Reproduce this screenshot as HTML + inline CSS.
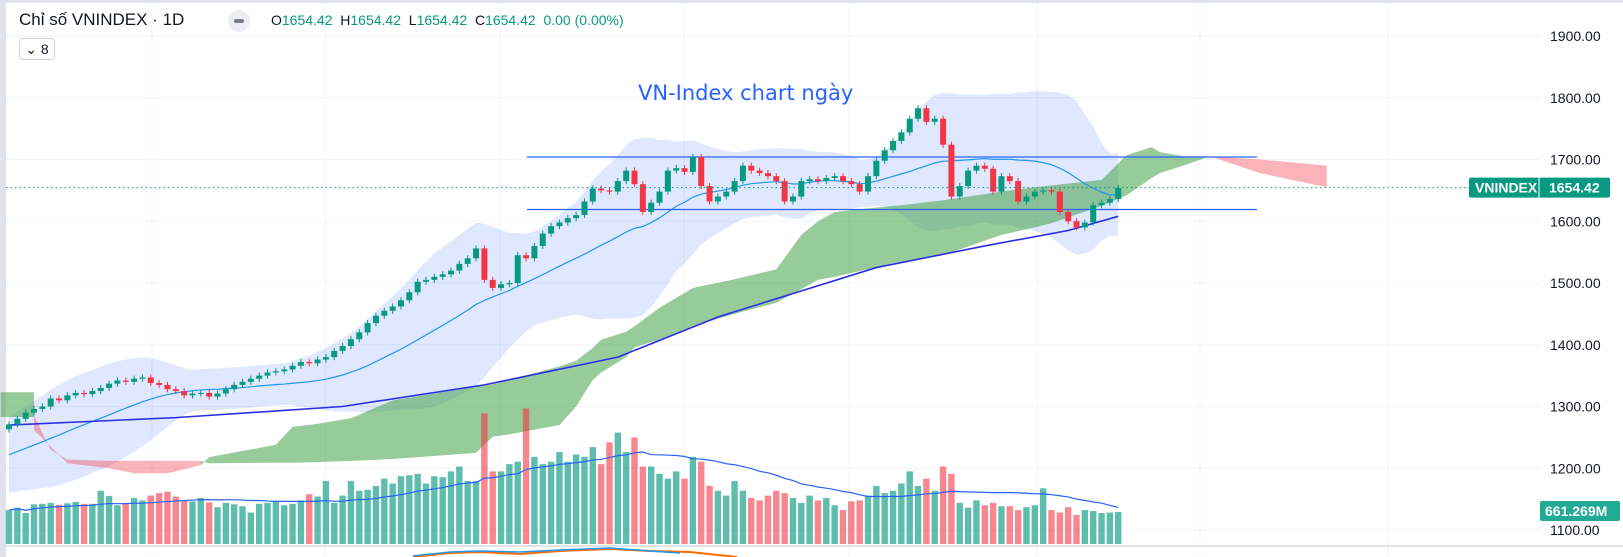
<!DOCTYPE html>
<html><head><meta charset="utf-8"><style>
html,body{margin:0;padding:0;background:#fff;width:1623px;height:557px;overflow:hidden;font-family:"Liberation Sans",sans-serif}
#wrap{position:relative;width:1623px;height:557px}
svg{position:absolute;left:0;top:0}
.hdr{position:absolute;left:19px;top:10px;font-size:17px;color:#131722;white-space:nowrap}
.ohlc{position:absolute;left:271px;top:12px;font-size:14px;color:#131722;white-space:nowrap}
.ohlc span.v{color:#089981}
.btn8{position:absolute;left:19px;top:38px;width:36px;height:22px;border:1px solid #d1d4dc;border-radius:4px;font-size:14px;color:#131722;box-sizing:border-box;text-align:center;line-height:20px}
.dot{position:absolute;left:228px;top:10px;width:22px;height:22px;border-radius:11px;background:#eceef2}
.dot i{position:absolute;left:6px;top:9px;width:10px;height:4px;border-radius:2px;background:#787b86}
</style></head><body>
<div id="wrap">
<svg id="chart" width="1623" height="557"></svg>
<div class="hdr">Chỉ số VNINDEX · 1D</div>
<div class="dot"><i></i></div>
<div class="ohlc">O<span class="v">1654.42</span>&nbsp; H<span class="v">1654.42</span>&nbsp; L<span class="v">1654.42</span>&nbsp; C<span class="v">1654.42</span>&nbsp; <span class="v">0.00 (0.00%)</span></div>
<div class="btn8">&#x2304; 8</div>
</div>
<script>
const priorCloses=[1180,1185,1190,1195,1200,1205,1200,1210,1215,1220,1225,1230,1228,1235,1240,1245,1250,1255,1262];
const closes=[1271,1280,1290,1296,1300,1313,1310,1318,1322,1320,
1325,1330,1337,1342,1340,1345,1347,1338,1335,1328,
1325,1318,1321,1322,1316,1321,1328,1335,1340,1345,
1350,1355,1357,1360,1366,1372,1370,1376,1380,1390,
1398,1409,1420,1435,1447,1455,1462,1472,1485,1502,
1505,1510,1514,1520,1531,1540,1556,1505,1492,1498,
1500,1545,1540,1560,1580,1592,1598,1605,1610,1632,
1653,1650,1648,1665,1682,1660,1615,1630,1648,1682,
1686,1680,1704,1657,1632,1640,1648,1665,1690,1682,
1678,1673,1665,1632,1640,1665,1668,1665,1670,1673,
1665,1660,1648,1673,1698,1715,1730,1744,1766,1783,
1761,1766,1724,1640,1657,1682,1690,1685,1648,1673,
1665,1632,1640,1648,1650,1648,1615,1600,1590,1598,
1626,1630,1636,1654];
const volumes=[700,750,640,820,830,850,810,840,870,830,
830,1100,990,800,850,950,900,1000,1050,1080,
980,900,880,950,860,760,850,820,780,650,
830,850,880,800,830,900,1030,980,1300,850,
1000,1300,1100,1120,1200,1350,1250,1400,1420,1450,
1250,1400,1380,1500,1600,1300,1300,2700,1500,1500,
1650,1700,2800,1800,1650,1700,1900,1700,1850,1800,
2000,1650,2100,2300,1900,2200,1600,1600,1450,1350,
1500,1350,1800,1700,1200,1100,1000,1300,1100,950,
900,1000,1100,1050,950,850,1000,900,950,800,
700,880,900,1000,1200,1050,1100,1250,1500,1200,
1350,1100,1600,1450,850,750,900,800,850,780,
780,700,760,800,1150,700,650,760,600,700,
680,640,650,661];
const maIdx=[0,20,40,57,73,85,104,117,127,133];
const maVal=[1270,1282,1300,1335,1380,1445,1525,1560,1585,1608];
const cloudIdx=[-1,3,3,5,7,12,15,19,23,24,32,34,37,41,46,56,58,60,66,68,70,71,74,75,78,82,87,92,95,97,99,106,107,112,119,123,125,131,134,137,138,141,144,150,158];
const spanA=[1323,1323,1262,1235,1208,1200,1192,1192,1205,1218,1238,1267,1272,1281,1310,1332,1336,1343,1365,1374,1395,1408,1421,1430,1460,1492,1506,1522,1578,1600,1615,1625,1626,1634,1648,1655,1658,1667,1707,1720,1712,1705,1705,1678,1655];
const spanB=[1283,1283,1285,1230,1214,1212,1212,1212,1212,1208,1209,1209,1210,1212,1215,1225,1251,1255,1270,1300,1343,1355,1380,1396,1408,1430,1450,1468,1490,1505,1510,1532,1534,1545,1578,1590,1597,1625,1642,1670,1678,1691,1705,1700,1690];
const priceTicks=[1900,1800,1700,1600,1500,1400,1300,1200,1100];
const levels=[1704,1619];
const lastPrice=1654.42;
const lastVolLabel="661.269M";

const NS="http://www.w3.org/2000/svg";
const svg=document.getElementById('chart');
const X0=9,DX=8.34,PR=1540;
const x=i=>X0+i*DX;
const y=p=>36+(1900-p)*0.6175;
const VB=544,VS=32/661;
const vy=v=>VB-v*VS;
function mk(tag,attrs,parent){const e=document.createElementNS(NS,tag);for(const k in attrs)e.setAttribute(k,attrs[k]);(parent||svg).appendChild(e);return e;}

let e=mk('rect',{x:0,y:0,width:6,height:557,fill:'#e0e3eb'});


e=mk('line',{x1:0,y1:1.5,x2:1623,y2:1.5,stroke:'#e0e3eb','stroke-width':3});


const gx=[152,325,500,684,849,1037,1200,1388];
gx.forEach(g=>{const l=mk('line',{x1:g,y1:3,x2:g,y2:557,stroke:'#f0f3fa'});

});
priceTicks.forEach(t=>{const l=mk('line',{x1:6,y1:y(t),x2:PR,y2:y(t),stroke:'#f0f3fa'});


const tx=mk('text',{x:1550,y:y(t)+5,'font-size':14,fill:'#131722','font-family':'Liberation Sans, sans-serif'});tx.textContent=t.toFixed(2);

});
e=mk('line',{x1:6,y1:546,x2:1623,y2:546,stroke:'#e0e3eb','stroke-width':2});



const N=closes.length;const all=priorCloses.concat(closes);const P=priorCloses.length;
const mid=[],up=[],lo=[];
for(let i=0;i<N;i++){const j=i+P;const w=all.slice(j-19,j+1);const m=w.reduce((a,b)=>a+b,0)/w.length;
const sd=Math.sqrt(w.reduce((a,b)=>a+(b-m)*(b-m),0)/w.length);mid.push(m);up.push(m+2.4*Math.max(sd,14));lo.push(m-2.4*Math.max(sd,14));}
let d='M'+x(0)+','+y(up[0]);for(let i=1;i<N;i++)d+='L'+x(i)+','+y(up[i]);for(let i=N-1;i>=0;i--)d+='L'+x(i)+','+y(lo[i]);
e=mk('path',{d:d+'Z',fill:'rgba(41,98,255,0.15)'});



// cloud: merge contiguous same-colour runs into single polygons
let runs=[];let cur=null;
for(let k=0;k<cloudIdx.length-1;k++){
 if(cloudIdx[k+1]===cloudIdx[k]){cur=null;continue;}
 const green=(spanA[k]+spanA[k+1])>=(spanB[k]+spanB[k+1]);
 if(!cur||cur.green!==green){cur={green,ks:[k]};runs.push(cur);}
 cur.ks.push(k+1);
}
runs.forEach(r=>{
 const top=r.ks.map(k=>x(cloudIdx[k])+','+y(spanA[k]));
 const bot=r.ks.slice().reverse().map(k=>x(cloudIdx[k])+','+y(spanB[k]));
 const p=mk('polygon',{points:top.concat(bot).join(' '),fill:r.green?'rgba(67,160,71,0.55)':'rgba(242,54,69,0.38)'});
 
 
});

for(let i=0;i<N;i++){const o=i?closes[i-1]:closes[0];const g=closes[i]>=o;
 const r=mk('rect',{x:x(i)-3.2,y:vy(volumes[i]),width:6.4,height:VB-vy(volumes[i]),fill:g?'rgba(8,153,129,0.65)':'rgba(242,54,69,0.6)'});
 
 }
let vd='';for(let i=0;i<N;i++){const s=Math.max(0,i-19);const w=volumes.slice(s,i+1);const m=w.reduce((a,b)=>a+b,0)/w.length;vd+=(i?'L':'M')+x(i)+','+vy(m);}
e=mk('path',{d:vd,fill:'none',stroke:'#2962ff','stroke-width':1.2});



let md='';for(let i=0;i<N;i++)md+=(i?'L':'M')+x(i)+','+y(mid[i]);
e=mk('path',{d:md,fill:'none',stroke:'#2196f3','stroke-width':1.2});


let ld='';maIdx.forEach((i,k)=>ld+=(k?'L':'M')+x(i)+','+y(maVal[k]));
e=mk('path',{d:ld,fill:'none',stroke:'#2a2ee6','stroke-width':1.6});



levels.forEach(lv=>{const l=mk('line',{x1:527,y1:y(lv),x2:1257,y2:y(lv),stroke:'#2962ff','stroke-width':1.2});

});

for(let i=0;i<N;i++){const o=i?closes[i-1]:closes[0]-8;const c=closes[i];const g=c>=o;const col=g?'#089981':'#f23645';
 const hi=Math.max(o,c)+5,lw=Math.min(o,c)-5;
 const w=mk('line',{x1:x(i),y1:y(hi),x2:x(i),y2:y(lw),stroke:col,'stroke-width':1});
 
 
 const top=y(Math.max(o,c)),h=Math.max(1,y(Math.min(o,c))-top);
 const b=mk('rect',{x:x(i)-3,y:top,width:6,height:h,fill:col});
 
 }

e=mk('line',{x1:6,y1:y(lastPrice),x2:1469,y2:y(lastPrice),stroke:'#089981','stroke-dasharray':'1.5 3','stroke-width':1});


e=mk('rect',{x:1469,y:y(lastPrice)-10,width:141,height:20,rx:2,fill:'#089981'});


e=mk('line',{x1:1539,y1:y(lastPrice)-10,x2:1539,y2:y(lastPrice)+10,stroke:'#fff'});
let t=mk('text',{x:1475,y:y(lastPrice)+5,'font-size':14,'font-weight':'bold',fill:'#fff'});t.textContent='VNINDEX';


t=mk('text',{x:1549,y:y(lastPrice)+5,'font-size':14,'font-weight':'bold',fill:'#fff'});t.textContent=lastPrice.toFixed(2);


e=mk('rect',{x:1540,y:501,width:80,height:20,rx:2,fill:'#22ab94'});


t=mk('text',{x:1545,y:516,'font-size':14,'font-weight':'bold',fill:'#fff'});t.textContent=lastVolLabel;



t=mk('text',{x:638,y:100,'font-size':21,fill:'#2962ff','font-family':'DejaVu Sans, sans-serif'});t.textContent='VN-Index chart ngày';



e=mk('path',{d:'M413,557 L450,553 L480,552 L520,554 L560,551 L610,549 L650,551 L690,552 L737,557',fill:'none',stroke:'#ff6d00','stroke-width':2});


e=mk('path',{d:'M413,556 L450,552 L480,551 L520,552 L560,550 L610,548 L650,551 L680,553',fill:'none',stroke:'#2196f3','stroke-width':1.5});


</script>
</body></html>
